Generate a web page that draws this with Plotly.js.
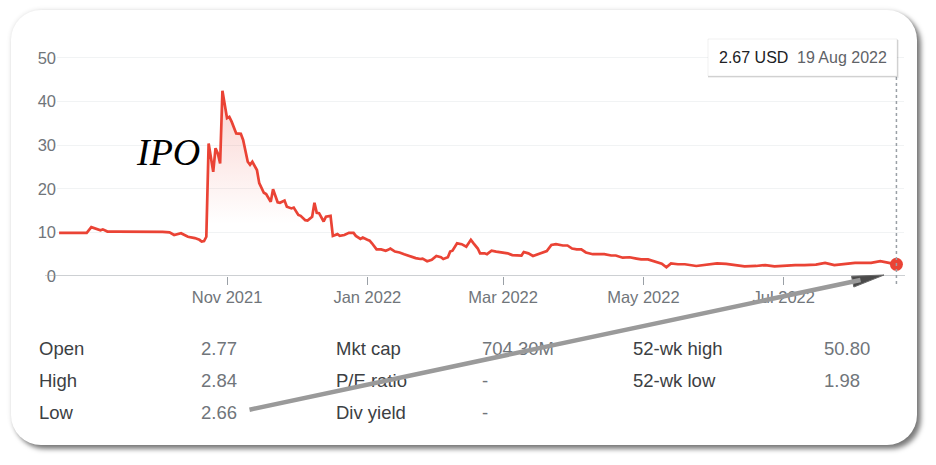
<!DOCTYPE html>
<html>
<head>
<meta charset="utf-8">
<script src="https://cdn.plot.ly/plotly-3.0.1.min.js"></script>
<style>
  html, body { margin: 0; padding: 0; background: #fff; }
  #card {
    position: absolute; left: 11px; top: 10px; width: 906px; height: 435px;
    border-radius: 30px; background: #fff;
    box-shadow: 4px 4px 5px rgba(0,0,0,0.5), 0 0 5px rgba(0,0,0,0.12);
  }
  #chart { position: absolute; left: 0; top: 0; width: 936px; height: 465px; }
</style>
</head>
<body>
<div id="card"></div>
<div id="chart"></div>
<script>
// price history, one year up to 19 Aug 2022
const dates = [
  '2021-08-20','2021-08-25','2021-08-30','2021-09-01','2021-09-03','2021-09-07','2021-09-08','2021-09-10',
  '2021-09-14','2021-09-20','2021-09-27','2021-10-04','2021-10-07','2021-10-09','2021-10-12','2021-10-15',
  '2021-10-18','2021-10-20','2021-10-21','2021-10-22','2021-10-23','2021-10-24','2021-10-26','2021-10-27',
  '2021-10-28','2021-10-29','2021-10-30','2021-11-01','2021-11-02','2021-11-03','2021-11-05','2021-11-07',
  '2021-11-08','2021-11-10','2021-11-11','2021-11-12','2021-11-14','2021-11-15','2021-11-17','2021-11-18',
  '2021-11-20','2021-11-21','2021-11-23','2021-11-24','2021-11-26','2021-11-27','2021-11-29','2021-11-30',
  '2021-12-02','2021-12-03','2021-12-05','2021-12-06','2021-12-08','2021-12-09','2021-12-10','2021-12-11',
  '2021-12-13','2021-12-14','2021-12-16','2021-12-17','2021-12-19','2021-12-20','2021-12-22','2021-12-24',
  '2021-12-26','2021-12-27','2021-12-29','2021-12-30','2022-01-01','2022-01-02','2022-01-03','2022-01-05',
  '2022-01-07','2022-01-09','2022-01-10','2022-01-11','2022-01-13','2022-01-15','2022-01-17','2022-01-20',
  '2022-01-22','2022-01-24','2022-01-25','2022-01-27','2022-01-29','2022-01-31','2022-02-02','2022-02-03',
  '2022-02-05','2022-02-06','2022-02-07','2022-02-09','2022-02-11','2022-02-13','2022-02-15','2022-02-16',
  '2022-02-18','2022-02-19','2022-02-21','2022-02-22','2022-02-24','2022-02-26','2022-03-01','2022-03-03',
  '2022-03-05','2022-03-07','2022-03-09','2022-03-10','2022-03-12','2022-03-14','2022-03-16','2022-03-18',
  '2022-03-20','2022-03-22','2022-03-24','2022-03-27','2022-03-29','2022-03-31','2022-04-02','2022-04-04',
  '2022-04-06','2022-04-09','2022-04-12','2022-04-14','2022-04-17','2022-04-19','2022-04-22','2022-04-25',
  '2022-04-28','2022-04-30','2022-05-03','2022-05-06','2022-05-09','2022-05-11','2022-05-13','2022-05-16',
  '2022-05-19','2022-05-24','2022-05-29','2022-06-02','2022-06-06','2022-06-10','2022-06-14','2022-06-19',
  '2022-06-23','2022-06-27','2022-07-02','2022-07-06','2022-07-10','2022-07-15','2022-07-19','2022-07-23',
  '2022-07-28','2022-08-01','2022-08-05','2022-08-08','2022-08-12','2022-08-16','2022-08-19'
];
const prices = [
  9.9, 9.9, 9.9, 9.9, 11.2, 10.5, 10.7, 10.2,
  10.2, 10.2, 10.1, 10.1, 10.0, 9.4, 9.8, 9.0,
  8.7, 8.3, 7.9, 8.0, 9.0, 30.4, 23.9, 29.3,
  28.1, 25.8, 42.5, 36.2, 36.5, 35.4, 32.7, 32.6,
  31.2, 26.2, 25.5, 26.2, 24.3, 21.3, 19.1, 18.8,
  17.0, 19.9, 16.9, 16.8, 17.3, 15.9, 15.5, 15.7,
  14.0, 13.8, 12.8, 12.7, 13.6, 16.8, 14.5, 14.4,
  12.5, 13.6, 13.8, 9.2, 9.6, 9.2, 9.4, 9.9,
  9.9, 9.2, 8.5, 8.8, 8.3, 8.1, 7.5, 6.1,
  6.1, 5.8, 6.0, 6.3, 5.6, 5.4, 5.0, 4.4,
  4.1, 3.9, 4.0, 3.4, 3.7, 4.6, 4.3, 3.9,
  4.3, 5.6, 5.8, 7.5, 7.3, 6.7, 8.3, 7.6,
  6.3, 5.2, 5.2, 5.0, 5.8, 5.6, 5.4, 5.2,
  4.8, 4.7, 4.7, 5.5, 5.2, 4.6, 5.0, 5.4,
  5.7, 7.1, 7.3, 7.0, 7.0, 6.3, 6.1, 6.1,
  5.4, 5.0, 4.9, 5.0, 4.7, 4.7, 4.2, 4.3,
  4.0, 3.8, 3.8, 3.3, 2.8, 2.0, 2.9, 2.7,
  2.7, 2.3, 2.7, 2.9, 2.8, 2.5, 2.2, 2.3,
  2.5, 2.2, 2.4, 2.5, 2.5, 2.6, 3.0, 2.5,
  2.8, 3.0, 3.0, 3.0, 3.4, 3.0, 2.67
];

const tickDates = ['2021-11-01', '2022-01-01', '2022-03-01', '2022-05-01', '2022-07-01'];
const tickLabels = ['Nov 2021', 'Jan 2022', 'Mar 2022', 'May 2022', 'Jul 2022'];

const currency = 'USD';
const lastDateLabel = '19 Aug 2022';

const statLabels1 = ['Open', 'High', 'Low'];
const statValues1 = ['2.77', '2.84', '2.66'];
const statLabels2 = ['Mkt cap', 'P/E ratio', 'Div yield'];
const statValues2 = ['704.30M', '-', '-'];
const statLabels3 = ['52-wk high', '52-wk low'];
const statValues3 = ['50.80', '1.98'];

// page geometry, pixels -> paper coords
const W = 936, H = 465;
const M = {l: 57, r: 32, t: 30, b: 189, pad: 0};
const px = x => (x - M.l) / (W - M.l - M.r);
const py = y => (H - M.b - y) / (H - M.t - M.b);

const red = '#ea4335';
const FONT = 'Liberation Sans, Arial, sans-serif';
const lastDate = dates[dates.length - 1];
const lastPrice = prices[prices.length - 1];

const annotations = [];
function textAt(x, y, text, color, anchor) {
  annotations.push({
    xref: 'paper', yref: 'paper', x: px(x), y: py(y), text: text, showarrow: false,
    xanchor: anchor || 'left', yanchor: 'middle', borderpad: 0,
    font: {family: FONT, size: 18.5, color: color}
  });
}
const rowsY = [348, 380, 412];
statLabels1.forEach((t, i) => textAt(38, rowsY[i], t, '#3c4043'));
statValues1.forEach((t, i) => textAt(200, rowsY[i], t, '#70757a'));
statLabels2.forEach((t, i) => textAt(335, rowsY[i], t, '#3c4043'));
statValues2.forEach((t, i) => textAt(481, rowsY[i], t, '#70757a'));
statLabels3.forEach((t, i) => textAt(632, rowsY[i], t, '#3c4043'));
statValues3.forEach((t, i) => textAt(823, rowsY[i], t, '#70757a'));

// tooltip texts
annotations.push({
  xref: 'paper', yref: 'paper', x: px(718), y: py(57.5), xanchor: 'left', yanchor: 'middle',
  text: lastPrice.toFixed(2) + ' ' + currency, showarrow: false, borderpad: 0,
  font: {family: FONT, size: 16, color: '#202124'}
});
annotations.push({
  xref: 'paper', yref: 'paper', x: px(888), y: py(57.5), xanchor: 'right', yanchor: 'middle',
  text: lastDateLabel, showarrow: false, borderpad: 0,
  font: {family: FONT, size: 16, color: '#5f6368'}
});

// IPO label
annotations.push({
  xref: 'paper', yref: 'paper', x: px(168), y: py(152), xanchor: 'center', yanchor: 'middle',
  text: '<i>IPO</i>', showarrow: false,
  font: {family: 'Liberation Serif, Times New Roman, serif', size: 38, color: '#000'}
});

// grey arrow shaft (drawn last so it sits over the table), head added as a shape
const tail = [248, 410], tip = [884, 275];
const dx = tip[0] - tail[0], dy = tip[1] - tail[1], len = Math.hypot(dx, dy);
const ux = dx / len, uy = dy / len;
const shaftEnd = [tip[0] - 24 * ux, tip[1] - 24 * uy];
annotations.push({
  xref: 'paper', yref: 'paper', x: px(shaftEnd[0]), y: py(shaftEnd[1]),
  ax: tail[0] - shaftEnd[0], ay: tail[1] - shaftEnd[1],
  text: '', showarrow: true, arrowhead: 0, arrowwidth: 4.5,
  arrowcolor: '#9a9a9a', standoff: 0
});
const hb = [tip[0] - 32 * ux, tip[1] - 32 * uy];
const nx = -uy, ny = ux, hw = 5.5;
const headPath = 'M' + px(tip[0]) + ',' + py(tip[1]) +
  ' L' + px(hb[0] + hw * nx) + ',' + py(hb[1] + hw * ny) +
  ' L' + px(hb[0] - hw * nx) + ',' + py(hb[1] - hw * ny) + ' Z';

const shapes = [
  {type: 'line', xref: 'paper', yref: 'y', x0: px(45), x1: px(905), y0: 0, y1: 0,
   line: {color: '#9aa0a6', width: 1}},
  {type: 'line', xref: 'x', yref: 'paper', x0: lastDate, x1: lastDate, y0: py(284), y1: py(76),
   line: {color: '#9aa0a6', width: 1.5, dash: 'dot'}},
  // tooltip shadow + box
  {type: 'rect', xref: 'paper', yref: 'paper', x0: px(708), x1: px(899), y0: py(78), y1: py(40),
   fillcolor: 'rgba(0,0,0,0.06)', line: {width: 0}},
  {type: 'rect', xref: 'paper', yref: 'paper', x0: px(708), x1: px(898), y0: py(77), y1: py(39.5),
   fillcolor: 'rgba(0,0,0,0.10)', line: {width: 0}},
  {type: 'rect', xref: 'paper', yref: 'paper', x0: px(708), x1: px(897), y0: py(76), y1: py(39),
   fillcolor: '#ffffff', line: {color: 'rgba(0,0,0,0.06)', width: 1}},
  // arrow head
  {type: 'path', xref: 'paper', yref: 'paper', path: headPath,
   fillcolor: '#4a4a4a', line: {color: '#6a6a6a', width: 1}}
];

const traces = [
  {
    x: dates, y: prices, type: 'scatter', mode: 'lines',
    line: {color: red, width: 2.7},
    fill: 'tozeroy',
    fillgradient: {type: 'vertical', start: 12, stop: 43,
      colorscale: [[0, 'rgba(234,67,53,0)'], [1, 'rgba(234,67,53,0.24)']]},
    hoverinfo: 'skip'
  },
  {
    x: [lastDate], y: [lastPrice], type: 'scatter', mode: 'markers',
    marker: {color: red, size: 13}, hoverinfo: 'skip'
  }
];

const layout = {
  width: W, height: H, margin: M,
  paper_bgcolor: 'rgba(0,0,0,0)', plot_bgcolor: 'rgba(0,0,0,0)',
  showlegend: false,
  font: {family: FONT},
  xaxis: {
    type: 'date', range: ['2021-08-19 02:00', '2022-08-22 07:00'],
    showgrid: false, zeroline: false, showline: false,
    tickmode: 'array', tickvals: tickDates, ticktext: tickLabels,
    ticks: 'outside', ticklen: 8, tickwidth: 1, tickcolor: '#9aa0a6',
    ticklabelstandoff: -2,
    tickfont: {family: FONT, size: 16.5, color: '#70757a'}
  },
  yaxis: {
    range: [0, 56.42], dtick: 10, tick0: 0,
    showgrid: true, gridcolor: '#f1f3f4', gridwidth: 1,
    zeroline: false, showline: false, ticks: '',
    tickfont: {family: FONT, size: 16.5, color: '#70757a'}
  },
  shapes: shapes,
  annotations: annotations
};

Plotly.newPlot('chart', traces, layout, {displayModeBar: false, staticPlot: true});
</script>
</body>
</html>
